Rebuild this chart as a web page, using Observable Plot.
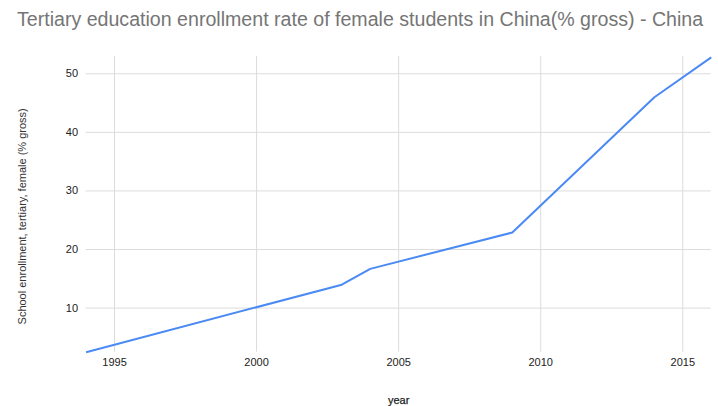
<!DOCTYPE html>
<html>
<head>
<meta charset="utf-8">
<script src="https://cdn.jsdelivr.net/npm/d3@7"></script>
<script src="https://cdn.jsdelivr.net/npm/@observablehq/plot@0.6"></script>
<style>
  html, body { margin: 0; padding: 0; background: #fff; }
  #title {
    box-sizing: border-box;
    height: 40px;
    padding-top: 9px;
    padding-left: 17px;
    font-family: "Liberation Sans", Arial, Helvetica, sans-serif;
    font-size: 19.6px;
    line-height: 21.8px;
    color: #757575;
    white-space: nowrap;
  }
</style>
</head>
<body>
<div id="title">Tertiary education enrollment rate of female students in China(% gross) - China</div>
<div id="chart"></div>
<script>
// Female gross tertiary enrollment, China (% gross)
const years = [1994, 2003, 2004, 2009, 2014, 2016];
const rates = [2.47, 14.0, 16.7, 22.9, 46.0, 52.8];

const xTicks = [1995, 2000, 2005, 2010, 2015];
const yTicks = [10, 20, 30, 40, 50];

const xLabel = "year";
const yLabel = "School enrollment, tertiary, female (% gross)";

const rows = years.map((year, i) => ({year, rate: rates[i]}));

const chart = Plot.plot({
  width: 718,
  height: 366,
  marginTop: 16,
  marginBottom: 54.3,
  marginLeft: 85.6,
  marginRight: 7.3,
  style: {
    fontFamily: '"Liberation Sans", Arial, Helvetica, sans-serif',
    fontSize: "11px",
    color: "#333",
    background: "#fff"
  },
  x: {domain: [1994, 2016]},
  y: {domain: [2.47, 52.95]},
  marks: [
    Plot.gridX(xTicks, {stroke: "#dcdcdc", strokeOpacity: 1, strokeWidth: 1}),
    Plot.gridY(yTicks, {stroke: "#dcdcdc", strokeOpacity: 1, strokeWidth: 1}),
    Plot.axisX(xTicks, {
      tickSize: 0,
      tickPadding: 6,
      tickFormat: d => String(d),
      label: null,
      fill: "#222",
      stroke: "#222",
      strokeWidth: 0.25
    }),
    Plot.axisY(yTicks, {
      tickSize: 0,
      tickPadding: 8,
      label: null,
      fill: "#222",
      stroke: "#222",
      strokeWidth: 0.25
    }),
    Plot.line(rows, {
      x: "year",
      y: "rate",
      stroke: "#4a8af4",
      strokeWidth: 2,
      strokeLinejoin: "round",
      strokeLinecap: "butt"
    }),
    Plot.text([xLabel], {
      frameAnchor: "bottom",
      dy: 48.5,
      text: d => d,
      fill: "#222",
      stroke: "#222",
      strokeWidth: 0.25,
      lineAnchor: "middle"
    }),
    Plot.text([yLabel], {
      frameAnchor: "left",
      dx: -63.6,
      dy: 12,
      rotate: -90,
      textAnchor: "middle",
      text: d => d,
      fill: "#333",
      lineAnchor: "middle"
    })
  ]
});

document.getElementById("chart").appendChild(chart);
</script>
</body>
</html>
